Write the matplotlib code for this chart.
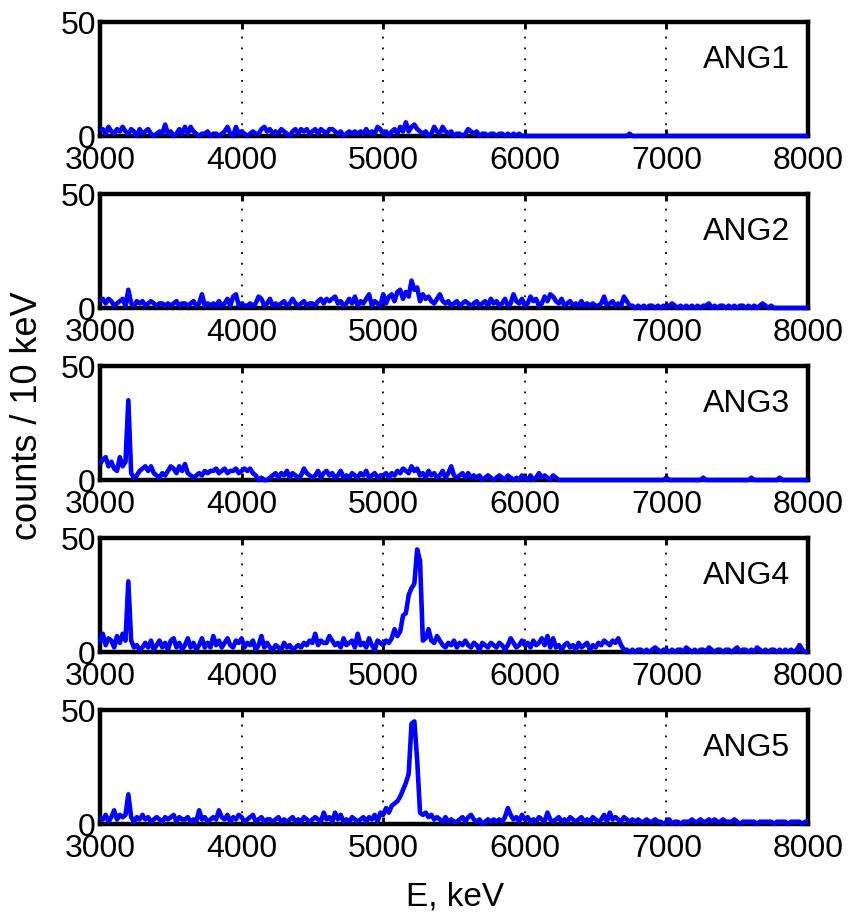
import numpy as np
import matplotlib
matplotlib.use("Agg")
import matplotlib.pyplot as plt

plt.rcParams['font.family'] = ['Liberation Sans', 'DejaVu Sans']

# Energy grid (keV), 20 keV sampling of the 10 keV histograms
energy = np.arange(3000, 8001, 20)

panel_labels = ["ANG1", "ANG2", "ANG3", "ANG4", "ANG5"]

ang1 = [
    2, 3, 1, 4, 2, 1, 3, 2, 4, 2,
    1, 3, 2, 0, 3, 1, 2, 3, 1, 0,
    1, 2, 1, 5, 1, 2, 0, 1, 3, 1,
    4, 1, 4, 2, 1, 0, 1, 1, 2, 0,
    1, 1, 0, 1, 2, 4, 1, 0, 4, 1,
    2, 1, 0, 1, 2, 1, 1, 3, 4, 2,
    3, 1, 2, 1, 3, 2, 1, 0, 2, 3,
    1, 3, 2, 3, 1, 2, 3, 1, 3, 2,
    1, 3, 3, 2, 1, 2, 0, 1, 2, 1,
    2, 1, 2, 1, 3, 1, 2, 1, 4, 3,
    1, 2, 0, 2, 3, 1, 4, 2, 6, 2,
    4, 5, 3, 2, 1, 2, 0, 1, 4, 2,
    1, 4, 2, 1, 2, 0, 1, 1, 0, 1,
    3, 2, 1, 2, 0, 1, 1, 0, 1, 1,
    0, 1, 1, 0, 1, 0, 1, 0, 1, 0,
    0, 0, 0, 0, 0, 0, 0, 0, 0, 0,
    0, 0, 0, 0, 0, 0, 0, 0, 0, 0,
    0, 0, 0, 0, 0, 0, 0, 0, 0, 0,
    0, 0, 0, 0, 0, 0, 0, 1, 0, 0,
    0, 0, 0, 0, 0, 0, 0, 0, 0, 0,
    0, 0, 0, 0, 0, 0, 0, 0, 0, 0,
    0, 0, 0, 0, 0, 0, 0, 0, 0, 0,
    0, 0, 0, 0, 0, 0, 0, 0, 0, 0,
    0, 0, 0, 0, 0, 0, 0, 0, 0, 0,
    0, 0, 0, 0, 0, 0, 0, 0, 0, 0,
    0,
]

ang2 = [
    3, 4, 2, 4, 3, 1, 2, 3, 4, 1,
    8, 2, 1, 3, 2, 3, 1, 2, 3, 2,
    1, 2, 2, 1, 2, 1, 2, 3, 1, 2,
    2, 1, 2, 3, 1, 2, 6, 1, 2, 1,
    2, 1, 3, 1, 2, 4, 1, 5, 6, 1,
    2, 1, 1, 2, 1, 2, 5, 4, 1, 2,
    4, 1, 2, 1, 2, 3, 1, 2, 4, 2,
    1, 2, 3, 1, 2, 2, 1, 3, 4, 2,
    4, 3, 4, 5, 2, 3, 1, 2, 4, 2,
    5, 1, 3, 2, 4, 6, 1, 3, 2, 1,
    6, 2, 5, 6, 3, 7, 8, 4, 7, 5,
    12, 8, 9, 3, 6, 4, 5, 3, 2, 4,
    6, 3, 2, 3, 1, 2, 3, 1, 2, 3,
    2, 1, 2, 3, 1, 2, 3, 1, 4, 2,
    3, 1, 2, 4, 1, 2, 6, 3, 2, 4,
    1, 2, 5, 3, 4, 1, 2, 5, 3, 6,
    5, 3, 2, 4, 1, 2, 3, 1, 2, 1,
    3, 1, 2, 1, 2, 1, 1, 2, 5, 1,
    2, 3, 1, 2, 1, 5, 3, 1, 1, 0,
    1, 0, 1, 0, 1, 1, 0, 1, 0, 1,
    0, 1, 2, 1, 0, 1, 0, 1, 0, 1,
    0, 1, 0, 1, 1, 2, 0, 1, 0, 1,
    1, 0, 1, 0, 1, 0, 1, 1, 0, 1,
    0, 1, 0, 1, 2, 1, 0, 1, 0, 0,
    0, 0, 0, 0, 0, 0, 0, 0, 0, 0,
    0,
]

ang3 = [
    7, 9, 10, 6, 8, 5, 4, 10, 6, 8,
    35, 3, 1, 2, 4, 5, 6, 4, 6, 3,
    2, 1, 3, 2, 4, 6, 5, 3, 6, 4,
    7, 3, 2, 1, 2, 3, 2, 4, 3, 4,
    4, 5, 3, 4, 5, 3, 4, 4, 5, 3,
    4, 5, 4, 5, 3, 2, 0, 1, 0, 0,
    1, 2, 3, 1, 3, 2, 4, 1, 3, 2,
    1, 2, 5, 3, 2, 1, 2, 4, 1, 3,
    4, 2, 3, 1, 2, 4, 1, 2, 1, 3,
    2, 1, 3, 2, 4, 1, 2, 3, 1, 2,
    2, 3, 1, 3, 2, 4, 3, 5, 4, 3,
    6, 4, 5, 2, 3, 1, 4, 2, 3, 1,
    2, 4, 1, 3, 6, 2, 1, 2, 3, 1,
    3, 1, 2, 1, 2, 0, 1, 2, 1, 0,
    1, 2, 1, 0, 2, 1, 0, 1, 0, 2,
    1, 0, 2, 0, 1, 3, 1, 2, 1, 0,
    2, 1, 0, 0, 0, 0, 0, 0, 0, 0,
    0, 0, 0, 0, 0, 0, 0, 0, 0, 0,
    0, 0, 0, 0, 0, 0, 0, 0, 0, 0,
    0, 0, 0, 0, 0, 0, 0, 0, 0, 0,
    1, 0, 0, 0, 0, 0, 0, 0, 0, 0,
    0, 0, 0, 1, 0, 0, 0, 0, 0, 0,
    0, 0, 0, 0, 0, 0, 0, 0, 0, 0,
    1, 0, 0, 0, 0, 0, 0, 0, 0, 0,
    1, 0, 0, 0, 0, 0, 0, 0, 0, 0,
    0,
]

ang4 = [
    4, 8, 3, 6, 5, 2, 7, 4, 8, 5,
    31, 5, 2, 3, 1, 2, 4, 2, 5, 1,
    3, 5, 2, 4, 1, 5, 6, 2, 4, 1,
    3, 6, 2, 4, 1, 3, 6, 2, 4, 2,
    7, 3, 5, 2, 4, 6, 3, 2, 5, 4,
    6, 2, 4, 3, 5, 1, 3, 7, 2, 4,
    2, 1, 3, 2, 1, 4, 2, 3, 1, 2,
    3, 2, 4, 3, 5, 4, 8, 3, 5, 4,
    4, 7, 5, 3, 4, 2, 6, 3, 4, 5,
    2, 8, 3, 4, 2, 6, 3, 1, 5, 4,
    3, 5, 4, 6, 10, 7, 9, 16, 17, 25,
    28, 30, 45, 40, 5, 6, 10, 5, 4, 7,
    5, 3, 2, 4, 3, 5, 2, 4, 3, 5,
    3, 2, 4, 3, 1, 4, 3, 2, 4, 3,
    2, 4, 3, 1, 3, 6, 4, 2, 3, 5,
    3, 4, 2, 5, 3, 4, 6, 3, 7, 2,
    6, 2, 3, 1, 3, 4, 2, 3, 1, 4,
    2, 3, 4, 1, 3, 2, 4, 3, 5, 4,
    3, 5, 4, 6, 3, 1, 1, 0, 1, 0,
    1, 1, 0, 1, 0, 1, 2, 1, 0, 1,
    1, 0, 1, 0, 1, 1, 0, 2, 1, 0,
    1, 0, 1, 1, 0, 2, 1, 0, 1, 1,
    0, 1, 1, 0, 1, 2, 0, 1, 1, 0,
    1, 0, 2, 1, 0, 1, 0, 1, 1, 0,
    1, 0, 1, 0, 1, 0, 1, 3, 1, 0,
    0,
]

ang5 = [
    3, 2, 4, 1, 3, 6, 2, 4, 3, 4,
    13, 3, 1, 3, 2, 4, 2, 3, 1, 2,
    3, 2, 1, 3, 2, 3, 4, 1, 3, 2,
    2, 3, 1, 2, 1, 6, 2, 3, 1, 2,
    3, 2, 6, 3, 2, 4, 1, 3, 2, 4,
    3, 1, 2, 3, 4, 1, 2, 3, 1, 2,
    2, 1, 2, 3, 1, 2, 1, 2, 3, 1,
    2, 1, 3, 2, 1, 2, 3, 2, 1, 5,
    2, 3, 1, 5, 2, 4, 1, 2, 1, 3,
    2, 1, 2, 3, 1, 3, 2, 4, 1, 5,
    4, 7, 5, 8, 9, 10, 12, 15, 18, 22,
    44, 45, 28, 5, 4, 5, 3, 4, 2, 3,
    2, 1, 3, 1, 2, 1, 1, 2, 3, 1,
    3, 4, 2, 1, 2, 0, 1, 2, 1, 2,
    1, 2, 1, 3, 7, 4, 2, 3, 1, 4,
    2, 3, 1, 2, 1, 3, 2, 1, 5, 2,
    1, 2, 3, 1, 2, 1, 3, 2, 1, 2,
    3, 1, 2, 1, 3, 2, 1, 2, 4, 1,
    5, 2, 3, 2, 1, 3, 2, 1, 2, 1,
    2, 1, 1, 2, 1, 1, 2, 1, 1, 0,
    1, 2, 0, 1, 1, 0, 1, 1, 1, 2,
    1, 1, 2, 1, 1, 2, 1, 2, 1, 1,
    2, 1, 1, 1, 2, 1, 0, 1, 1, 1,
    1, 1, 0, 1, 1, 1, 1, 1, 0, 1,
    1, 1, 1, 0, 1, 1, 1, 1, 0, 1,
    1,
]

series = [ang1, ang2, ang3, ang4, ang5]

x_ticks = [3000, 4000, 5000, 6000, 7000, 8000]
y_ticks = [0, 50]

W, H = 848, 916
fig = plt.figure(figsize=(W / 100, H / 100), dpi=100)

left_px, right_px = 100, 808
panel_h = 114
bottoms_px = [136, 308, 480, 652, 824]

for i, (lab, vals) in enumerate(zip(panel_labels, series)):
    b = bottoms_px[i]
    ax = fig.add_axes([left_px / W, 1 - b / H, (right_px - left_px) / W, panel_h / H])
    ax.plot(energy, vals, color=(0, 0, 1), lw=3.3, zorder=5, clip_on=False,
            solid_joinstyle='round', solid_capstyle='butt')
    ax.set_xlim(3000, 8000)
    ax.set_ylim(0, 50)
    ax.set_xticks(x_ticks)
    ax.set_yticks(y_ticks)
    ax.tick_params(direction='in', length=5, width=2, top=True, right=True,
                   labelsize=23)
    ax.tick_params(axis='x', pad=7)
    ax.tick_params(axis='y', pad=3)
    ax.xaxis.grid(True, linestyle=(0, (1, 5)), color='black', lw=1.3)
    ax.set_axisbelow(True)
    for s in ax.spines.values():
        s.set_linewidth(3.2)
        s.set_zorder(4)
    ax.text(0.975, 0.60, lab, transform=ax.transAxes, ha='right', va='baseline',
            fontsize=23)

fig.text(28 / W, 1 - 416 / H, "counts / 10 keV", rotation=90, ha='center',
         va='center', fontsize=26)
fig.text(455 / W, 1 - 905 / H, "E, keV", ha='center', va='baseline', fontsize=24)

fig.savefig("out.png", dpi=100)
